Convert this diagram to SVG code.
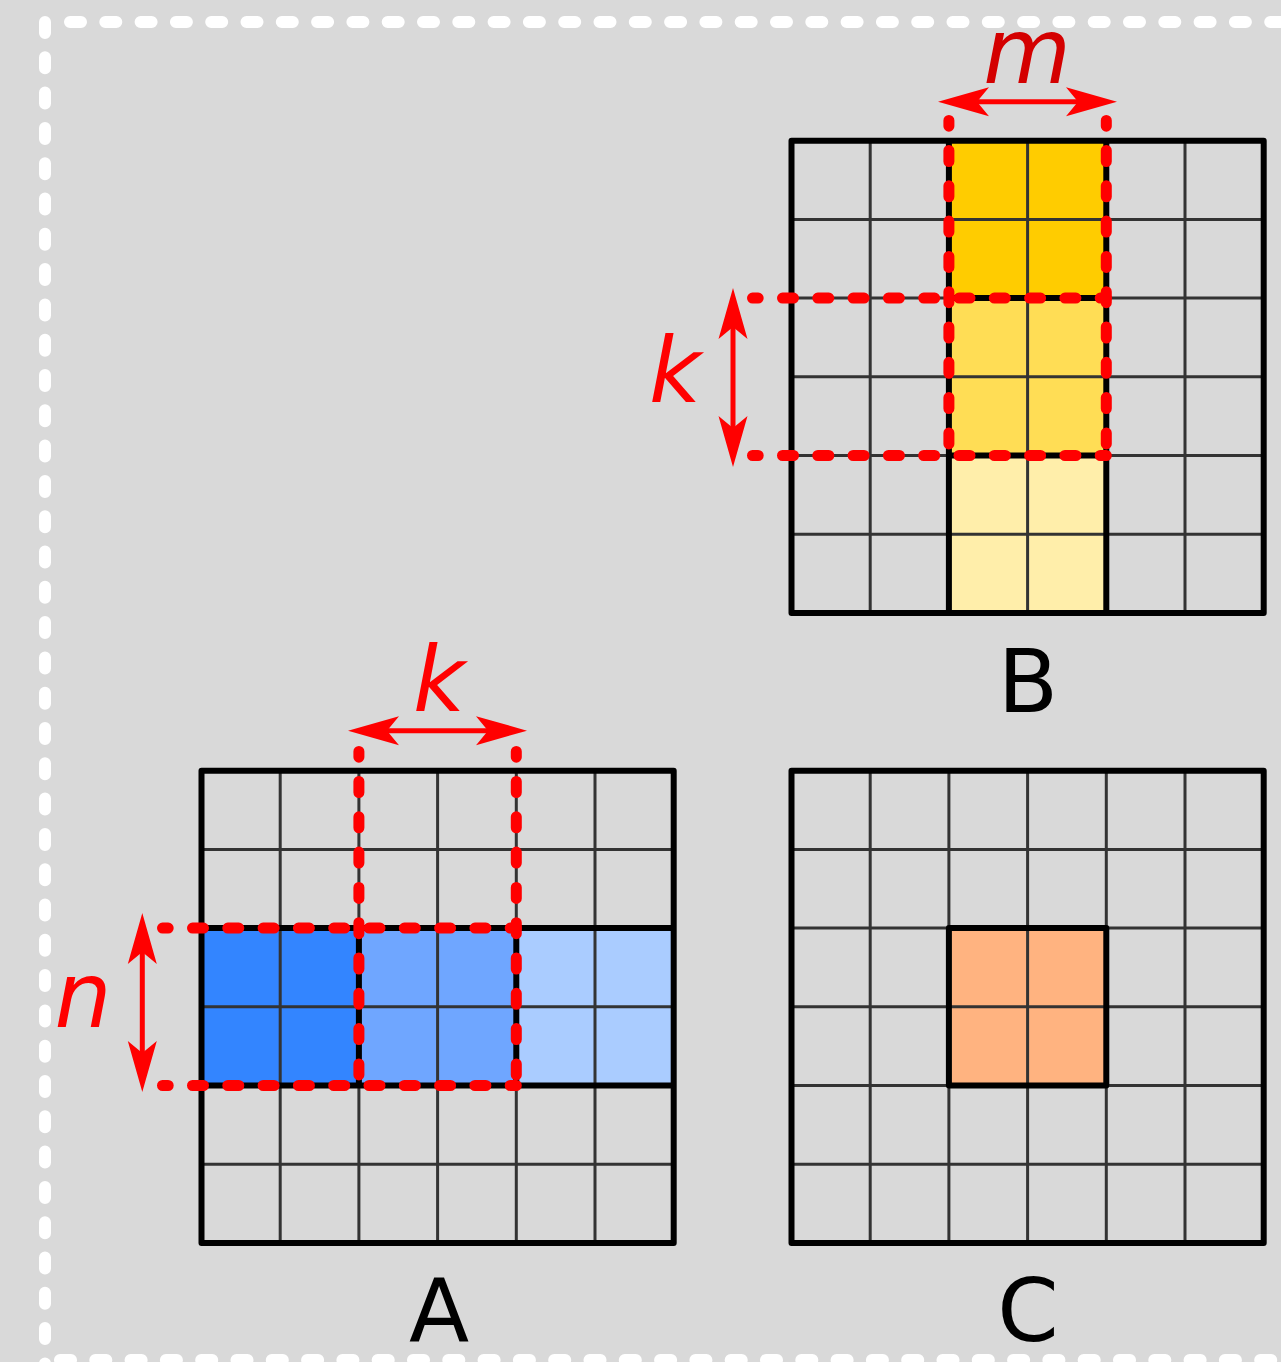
<svg xmlns="http://www.w3.org/2000/svg" width="1281" height="1362" viewBox="0 0 1281 1362">
<style>
.frame{fill:none;stroke:#fff;stroke-width:12;stroke-linecap:round;stroke-dasharray:11 24.3}
.thin{fill:none;stroke:#333;stroke-width:3}
.thick{fill:none;stroke:#000;stroke-width:6;stroke-linejoin:round}
.rdash{fill:none;stroke:#f00;stroke-width:11;stroke-linecap:round;stroke-dasharray:11 24.3;stroke-dashoffset:5.3}
.shaft{fill:none;stroke:#f00;stroke-width:5;marker-start:url(#ah);marker-end:url(#ah)}
.var{font-family:"DejaVu Sans",sans-serif;font-style:italic;font-size:90px;fill:#f00;text-anchor:middle}
.lbl{font-family:"DejaVu Sans",sans-serif;font-size:88px;fill:#000;text-anchor:middle}
</style>
<defs>
<marker id="ah" markerUnits="userSpaceOnUse" viewBox="-60 -18 62 36" markerWidth="62" markerHeight="36" refX="-12" refY="0" orient="auto-start-reverse" overflow="visible">
<path d="M0,0 L-51,-14.5 L-39,0 L-51,14.5 Z" fill="#f00"/>
</marker>
</defs>
<rect x="0" y="0" width="1281" height="1362" fill="#d9d9d9"/>
<g id="frame">
<path class="frame" d="M45,22 V1380"/>
<path class="frame" d="M70,22 H1300"/>
<path class="frame" d="M60,1360 H1300"/>
</g>
<g id="gridB">
<rect x="948.9" y="140.7" width="157.4" height="157.4" fill="#ffcc00"/>
<rect x="948.9" y="298.1" width="157.4" height="157.4" fill="#ffdd55"/>
<rect x="948.9" y="455.5" width="157.4" height="157.4" fill="#ffeeaa"/>
<path class="thin" d="M870.2,140.7V612.9M948.9,140.7V612.9M1027.6,140.7V612.9M1106.3,140.7V612.9M1185,140.7V612.9M791.5,219.4H1263.7M791.5,298.1H1263.7M791.5,376.8H1263.7M791.5,455.5H1263.7M791.5,534.2H1263.7"/>
<rect class="thick" x="791.5" y="140.7" width="472.2" height="472.2"/>
<path class="thick" d="M948.9,140.7V612.9M1106.3,140.7V612.9M948.9,298.1H1106.3M948.9,455.5H1106.3"/>
<text class="lbl" x="1028" y="712">B</text>
</g>
<g id="gridA">
<rect x="201.5" y="928.1" width="157.4" height="157.4" fill="#3385ff"/>
<rect x="358.9" y="928.1" width="157.4" height="157.4" fill="#6fa6ff"/>
<rect x="516.3" y="928.1" width="157.4" height="157.4" fill="#aaccff"/>
<path class="thin" d="M280.2,770.7V1242.9M358.9,770.7V1242.9M437.6,770.7V1242.9M516.3,770.7V1242.9M595,770.7V1242.9M201.5,849.4H673.7M201.5,928.1H673.7M201.5,1006.8H673.7M201.5,1085.5H673.7M201.5,1164.2H673.7"/>
<rect class="thick" x="201.5" y="770.7" width="472.2" height="472.2"/>
<path class="thick" d="M201.5,928.1H673.7M201.5,1085.5H673.7M358.9,928.1V1085.5M516.3,928.1V1085.5"/>
<text class="lbl" x="439" y="1341">A</text>
</g>
<g id="gridC">
<rect x="948.9" y="928.1" width="157.4" height="157.4" fill="#ffb380"/>
<path class="thin" d="M870.2,770.7V1242.9M948.9,770.7V1242.9M1027.6,770.7V1242.9M1106.3,770.7V1242.9M1185,770.7V1242.9M791.5,849.4H1263.7M791.5,928.1H1263.7M791.5,1006.8H1263.7M791.5,1085.5H1263.7M791.5,1164.2H1263.7"/>
<rect class="thick" x="791.5" y="770.7" width="472.2" height="472.2"/>
<rect class="thick" x="948.9" y="928.1" width="157.4" height="157.4"/>
<text class="lbl" x="1028" y="1341">C</text>
</g>
<g id="connectors">
<path class="rdash" d="M948.9,120.5V455.5"/>
<path class="rdash" d="M1106.3,120.5V455.5"/>
<path class="rdash" d="M752.5,298.1H1106.3"/>
<path class="rdash" d="M752.5,455.5H1106.3"/>
<path class="rdash" d="M358.9,751.5V1085.5"/>
<path class="rdash" d="M516.3,751.5V1085.5"/>
<path class="rdash" d="M162.5,928.1H516.3"/>
<path class="rdash" d="M162.5,1085.5H516.3"/>
<path class="shaft" d="M950,101.7H1105"/>
<path class="shaft" d="M733,300V455"/>
<path class="shaft" d="M360,730.7H515"/>
<path class="shaft" d="M142.3,925V1080"/>
</g>
<g id="labels">
<text class="var" x="1027" y="83" style="fill:#d40000">m</text>
<text class="var" x="675" y="402">k</text>
<text class="var" x="439" y="711">k</text>
<text class="var" x="83" y="1027">n</text>
</g>
</svg>
